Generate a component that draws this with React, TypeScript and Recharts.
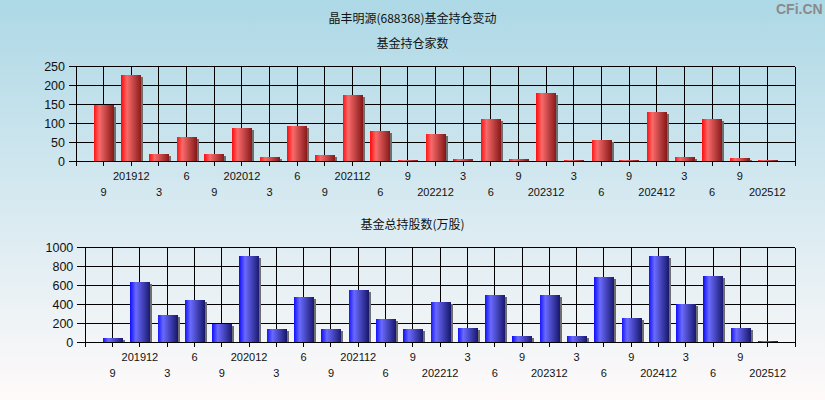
import React from 'react';
import { BarChart, Bar, XAxis, YAxis, CartesianGrid } from 'recharts';

const periods = ['9', '201912', '3', '6', '9', '202012', '3', '6', '9', '202112', '6', '9', '202212', '3', '6', '9', '202312', '3', '6', '9', '202412', '3', '6', '9', '202512'];
const fundCounts = [150, 227, 21, 64, 19, 88, 11, 93, 16, 174, 80, 3, 72, 6, 111, 6, 180, 3, 56, 3, 130, 12, 111, 9, 3];
const fundShares = [48, 638, 287, 449, 200, 912, 143, 480, 143, 554, 248, 143, 427, 152, 501, 68, 501, 68, 690, 259, 912, 403, 701, 154, 12];
const countTicks = [0, 50, 100, 150, 200, 250];
const shareTicks = [0, 200, 400, 600, 800, 1000];

const rows = periods.map((label, i) => ({
  pos: i + 1,
  label,
  count: fundCounts[i],
  shares: fundShares[i],
}));
const xTicks = Array.from({ length: periods.length + 2 }, (_, i) => i);

const FONT = '"Liberation Sans", Arial, sans-serif';
const CJK = '"Noto Sans CJK SC", "Noto Sans", sans-serif';

const PeriodTick = (props: any) => {
  const { x, y, payload } = props;
  const v = payload.value;
  if (v < 1 || v > periods.length) return <g />;
  const idx = v - 1;
  const lower = idx % 2 === 0;
  return (
    <text x={x} y={y + (lower ? 28.5 : 12.5)} textAnchor="middle" fontSize={11} fill="#111" fontFamily={FONT}>
      {periods[idx]}
    </text>
  );
};

const makeShape = (gradId: string) => (props: any) => {
  const { x, y, width, height } = props;
  if (!height || height <= 0) return <g />;
  return (
    <g shapeRendering="crispEdges">
      <rect x={x + 2} y={y + 2} width={width} height={Math.max(0, height - 2)} fill="#6e6e6e" />
      <rect x={x} y={y} width={width} height={height} fill={`url(#${gradId})`} />
    </g>
  );
};

const RedShape = makeShape('redGrad');
const BlueShape = makeShape('blueGrad');

export default function App() {
  return (
    <div
      style={{
        position: 'relative',
        width: 825,
        height: 400,
        background: 'linear-gradient(to bottom, #add8e6, #fffafa)',
        fontFamily: FONT,
        overflow: 'hidden',
      }}
    >
      <style>{`body{margin:0} .recharts-cartesian-grid line, .recharts-cartesian-axis-line, .recharts-cartesian-axis-tick-line { shape-rendering: crispEdges; }`}</style>
      <div style={{ position: 'absolute', top: 9, left: 0, width: 825, textAlign: 'center', fontSize: 12, fontFamily: CJK, color: '#111', lineHeight: '18px' }}>
        晶丰明源(688368)基金持仓变动
      </div>
      <div style={{ position: 'absolute', top: 34, left: 0, width: 825, textAlign: 'center', fontSize: 12, fontFamily: CJK, color: '#111', lineHeight: '18px' }}>
        基金持仓家数
      </div>
      <div style={{ position: 'absolute', top: 215, left: 0, width: 825, textAlign: 'center', fontSize: 12, fontFamily: CJK, color: '#111', lineHeight: '18px' }}>
        基金总持股数(万股)
      </div>
      <div style={{ position: 'absolute', top: 0, left: 776, fontSize: 14, fontWeight: 'bold', color: '#8a8a8a', fontFamily: FONT, lineHeight: '18px' }}>
        CFi.CN
      </div>

      <div style={{ position: 'absolute', top: 0, left: 0 }}>
        <BarChart width={825} height={210} data={rows} margin={{ top: 66.5, right: 30, left: 16, bottom: 8.5 }}>
          <defs>
            <linearGradient id="redGrad" x1="0" y1="0" x2="1" y2="0">
              <stop offset="0%" stopColor="#ff1010" />
              <stop offset="28%" stopColor="#f86a6a" />
              <stop offset="100%" stopColor="#861818" />
            </linearGradient>
          </defs>
          <CartesianGrid stroke="#000" strokeWidth={1} />
          <XAxis
            dataKey="pos"
            type="number"
            domain={[0, periods.length + 1]}
            ticks={xTicks}
            interval={0}
            height={40}
            tickSize={4}
            tick={<PeriodTick />}
            axisLine={{ stroke: '#000' }}
            tickLine={{ stroke: '#000' }}
          />
          <YAxis
            type="number"
            domain={[0, 250]}
            ticks={countTicks}
            interval={0}
            width={60}
            tickSize={7}
            tickMargin={4}
            tick={{ fontSize: 12.5, fill: '#111', fontFamily: FONT }}
            axisLine={{ stroke: '#000' }}
            tickLine={{ stroke: '#000' }}
          />
          <Bar dataKey="count" barSize={20} shape={RedShape} isAnimationActive={false} />
        </BarChart>
      </div>

      <div style={{ position: 'absolute', top: 200, left: 0 }}>
        <BarChart width={825} height={200} data={rows} margin={{ top: 47.5, right: 30, left: 25.3, bottom: 17.5 }}>
          <defs>
            <linearGradient id="blueGrad" x1="0" y1="0" x2="1" y2="0">
              <stop offset="0%" stopColor="#1010ff" />
              <stop offset="28%" stopColor="#6a6aff" />
              <stop offset="100%" stopColor="#18186e" />
            </linearGradient>
          </defs>
          <CartesianGrid stroke="#000" strokeWidth={1} />
          <XAxis
            dataKey="pos"
            type="number"
            domain={[0, periods.length + 1]}
            ticks={xTicks}
            interval={0}
            height={40}
            tickSize={4}
            tick={<PeriodTick />}
            axisLine={{ stroke: '#000' }}
            tickLine={{ stroke: '#000' }}
          />
          <YAxis
            type="number"
            domain={[0, 1000]}
            ticks={shareTicks}
            interval={0}
            width={60}
            tickSize={8}
            tickMargin={4}
            tick={{ fontSize: 12.5, fill: '#111', fontFamily: FONT }}
            axisLine={{ stroke: '#000' }}
            tickLine={{ stroke: '#000' }}
          />
          <Bar dataKey="shares" barSize={20} shape={BlueShape} isAnimationActive={false} />
        </BarChart>
      </div>
    </div>
  );
}
